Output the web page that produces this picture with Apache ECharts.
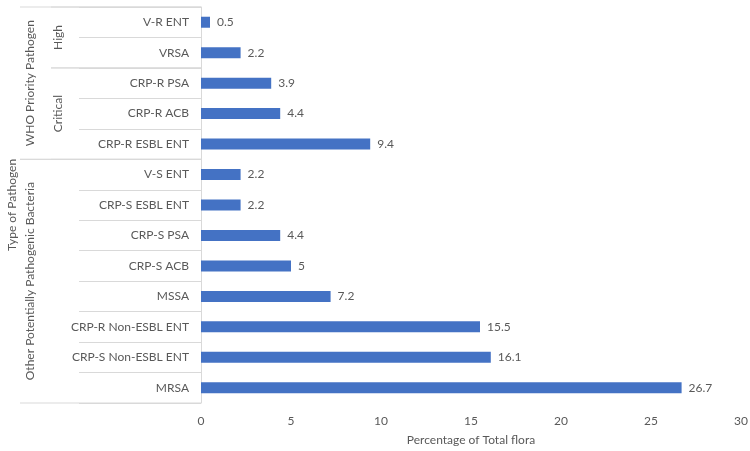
<!DOCTYPE html>
<html>
<head>
<meta charset="utf-8">
<title>Type of Pathogen</title>
<script src="https://cdn.jsdelivr.net/npm/echarts@6/dist/echarts.min.js"></script>
<style>
  body { margin: 0; background: #fff; }
  #main { width: 750px; height: 451px; }
</style>
</head>
<body>
<div id="main"></div>
<script>
// categories, top to bottom
var categories = ['V-R ENT', 'VRSA', 'CRP-R PSA', 'CRP-R ACB', 'CRP-R ESBL ENT',
  'V-S ENT', 'CRP-S ESBL ENT', 'CRP-S PSA', 'CRP-S ACB', 'MSSA',
  'CRP-R Non-ESBL ENT', 'CRP-S Non-ESBL ENT', 'MRSA'];
var values = [0.5, 2.2, 3.9, 4.4, 9.4, 2.2, 2.2, 4.4, 5, 7.2, 15.5, 16.1, 26.7];
var xTicks = [0, 5, 10, 15, 20, 25, 30];

// group levels of the category axis (index ranges into categories)
var subGroups = [['High', 0, 1], ['Critical', 2, 4]];
var mainGroups = [['WHO Priority Pathogen', 0, 4], ['Other Potentially Pathogenic Bacteria', 5, 12]];

var FONT = 'Lato';
var TXT = '#595959';
var LINE = '#d9d9d9';

var myChart = echarts.init(document.getElementById('main'));

var option = {
  animation: false,
  textStyle: { fontFamily: FONT },
  grid: { left: 201, right: 9, top: 7, bottom: 48, outerBoundsMode: 'none', containLabel: false },
  xAxis: {
    type: 'value',
    min: xTicks[0],
    max: xTicks[xTicks.length - 1],
    interval: 5,
    name: 'Percentage of Total flora',
    nameLocation: 'middle',
    nameGap: 31,
    nameTextStyle: { color: TXT, fontSize: 12, fontFamily: FONT },
    axisLine: { show: false },
    axisTick: { show: false },
    splitLine: { show: false },
    axisLabel: { color: TXT, fontSize: 12, margin: 12, fontFamily: FONT }
  },
  yAxis: {
    type: 'category',
    inverse: true,
    data: categories,
    name: 'Type of Pathogen',
    nameLocation: 'middle',
    nameGap: 183,
    nameRotate: 90,
    nameTextStyle: { color: TXT, fontSize: 12, fontFamily: FONT },
    axisLine: { show: true, lineStyle: { color: LINE } },
    axisTick: { show: true, length: 122, lineStyle: { color: LINE } },
    axisLabel: { color: TXT, fontSize: 12, margin: 12, fontFamily: FONT }
  },
  series: [{
    type: 'bar',
    data: values,
    barWidth: 11,
    itemStyle: { color: '#4472C4' },
    label: {
      show: true,
      position: 'right',
      distance: 7,
      color: TXT,
      fontSize: 12,
      fontFamily: FONT
    }
  }]
};
myChart.setOption(option);

// draw the outer levels of the category axis from the axis scale
function drawGroups() {
  var yc = categories.map(function (c) {
    return myChart.convertToPixel({ yAxisIndex: 0 }, c);
  });
  var band = yc[1] - yc[0];
  var axisX = myChart.convertToPixel({ xAxisIndex: 0 }, 0);
  var top = function (i) { return yc[i] - band / 2; };
  var bot = function (i) { return yc[i] + band / 2; };
  var g = [];
  function hline(y, x0) {
    g.push({ type: 'line', silent: true,
      shape: { x1: x0, y1: y, x2: axisX, y2: y },
      style: { stroke: LINE, lineWidth: 1 } });
  }
  function vtext(txt, x, y) {
    g.push({ type: 'text', x: x, y: y, rotation: Math.PI / 2, silent: true,
      style: { text: txt, fill: TXT, font: '12px ' + FONT, align: 'center', verticalAlign: 'middle' } });
  }
  subGroups.forEach(function (s) {
    hline(top(s[1]), axisX - 150);
    hline(bot(s[2]), axisX - 150);
    vtext(s[0], axisX - 143, (top(s[1]) + bot(s[2])) / 2);
  });
  mainGroups.forEach(function (m) {
    hline(top(m[1]), axisX - 181);
    hline(bot(m[2]), axisX - 181);
    vtext(m[0], axisX - 171, (top(m[1]) + bot(m[2])) / 2);
  });
  myChart.setOption({ graphic: g });
}
drawGroups();
</script>
</body>
</html>
